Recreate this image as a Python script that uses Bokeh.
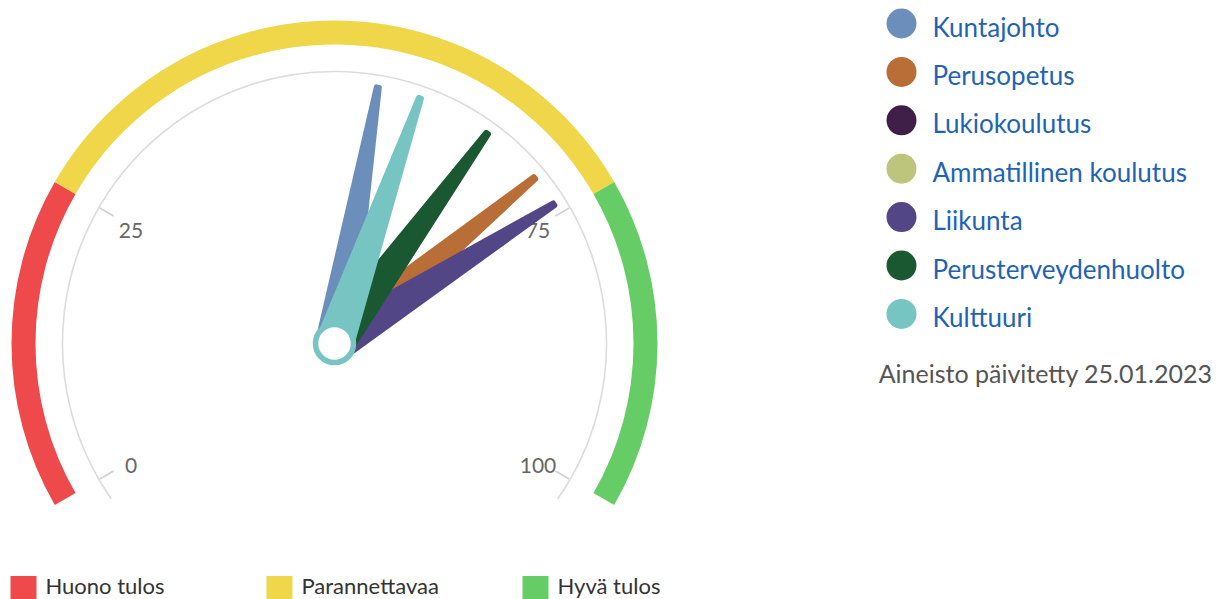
import math
from bokeh.plotting import figure
from bokeh.models import Range1d
from bokeh.core.properties import value
from bokeh.embed import file_html
from bokeh.resources import INLINE

# ---------------- data ----------------
series_names = ["Kuntajohto", "Perusopetus", "Lukiokoulutus", "Ammatillinen koulutus",
                "Liikunta", "Perusterveydenhuolto", "Kulttuuri"]
series_values = [54, 71, None, None, 74, 65, 58]
series_colors = ["#6B8EBB", "#B96E38", "#3F1F47", "#BDC47C", "#534687", "#1A5832", "#76C5C3"]

band_names = ["Huono tulos", "Parannettavaa", "Hyvä tulos"]
band_from = [0, 25, 75]
band_to = [25, 75, 100]
band_colors = ["#EF4A4B", "#F0D74A", "#66CC66"]

tick_values = [0, 25, 75, 100]
tick_labels = ["0", "25", "75", "100"]
axis_min, axis_max = 0, 100
note_text = "Aineisto päivitetty 25.01.2023"

# ---------------- layout ----------------
W, H = 1222, 599
FONT = "Lato"
cx, cy = 334, 256          # gauge centre
R_BAND_IN, R_BAND_OUT = 299, 323
R_AXIS = 272
R_TICK_IN = 255
R_LABEL = 235
R_NEEDLE = 260
BASE_W, TOP_W = 34, 3


def ang(v):
    # 240 degree sweep: 0 -> 210 deg, 100 -> -30 deg
    frac = (v - axis_min) / (axis_max - axis_min)
    return math.radians(210 - 240 * frac)


p = figure(width=W, height=H, output_backend="svg", toolbar_location=None,
           x_range=Range1d(0, W), y_range=Range1d(0, H), min_border=0)
p.axis.visible = False
p.grid.visible = False
p.outline_line_color = None
p.background_fill_color = "white"
p.border_fill_color = "white"

# plot bands
p.annular_wedge(x=[cx] * 3, y=[cy] * 3, inner_radius=R_BAND_IN, outer_radius=R_BAND_OUT,
                start_angle=[ang(t) for t in band_to], end_angle=[ang(f) for f in band_from],
                fill_color=band_colors, line_color=None)

# axis line
p.arc(x=[cx], y=[cy], radius=R_AXIS, start_angle=ang(axis_max + 2), end_angle=ang(axis_min - 2),
      line_color="#dcdcdc", line_width=1.6)

# ticks
tx0 = [cx + R_TICK_IN * math.cos(ang(v)) for v in tick_values]
ty0 = [cy + R_TICK_IN * math.sin(ang(v)) for v in tick_values]
tx1 = [cx + (R_AXIS - 1) * math.cos(ang(v)) for v in tick_values]
ty1 = [cy + (R_AXIS - 1) * math.sin(ang(v)) for v in tick_values]
p.segment(x0=tx0, y0=ty0, x1=tx1, y1=ty1, line_color="#d0d0d0", line_width=1.6)

# tick labels
lx = [cx + R_LABEL * math.cos(ang(v)) for v in tick_values]
ly = [cy + R_LABEL * math.sin(ang(v)) - 4 for v in tick_values]
p.text(x=lx, y=ly, text=tick_labels, text_align="center", text_baseline="middle",
       text_font=value(FONT), text_font_size="21px", text_color="#666666")

# needles
for name, v, col in zip(series_names, series_values, series_colors):
    if v is None:
        continue
    a = ang(v)
    ux, uy = math.cos(a), math.sin(a)
    nx, ny = -uy, ux
    xs = [cx + nx * BASE_W / 2, cx + ux * R_NEEDLE + nx * TOP_W / 2,
          cx + ux * R_NEEDLE - nx * TOP_W / 2, cx - nx * BASE_W / 2]
    ys = [cy + ny * BASE_W / 2, cy + uy * R_NEEDLE + ny * TOP_W / 2,
          cy + uy * R_NEEDLE - ny * TOP_W / 2, cy - ny * BASE_W / 2]
    p.patches(xs=[xs], ys=[ys], fill_color=col, line_color=col, line_width=5,
              line_join="round")

# pivot (last series on top)
last_col = [c for v, c in zip(series_values, series_colors) if v is not None][-1]
p.circle(x=[cx], y=[cy], radius=19, fill_color="white", line_color=last_col, line_width=5.5)

# right legend
leg_x, leg_y0, leg_dy = 901, 576, 48.4
ly_list = [leg_y0 - i * leg_dy for i in range(len(series_names))]
p.scatter(x=[leg_x] * len(series_names), y=ly_list, marker="circle", size=30,
          fill_color=series_colors, line_color=None)
p.text(x=[leg_x + 31] * len(series_names), y=[y - 3 for y in ly_list], text=series_names,
       text_align="left", text_baseline="middle", text_font=value(FONT),
       text_font_size="26px", text_color="#1F63B4")
p.text(x=[1212], y=[ly_list[-1] - 59], text=[note_text], text_align="right",
       text_baseline="middle", text_font=value(FONT), text_font_size="25px",
       text_color="#555555")

# bottom legend (plot bands)
bx_sq = [23, 279, 535]
p.rect(x=bx_sq, y=[11.5] * 3, width=26, height=24, fill_color=band_colors, line_color=None)
p.text(x=[b + 22 for b in bx_sq], y=[14] * 3, text=band_names, text_align="left",
       text_baseline="middle", text_font=value(FONT), text_font_size="22px",
       text_color="#333333")

open("out.html", "w").write(file_html(p, INLINE))
